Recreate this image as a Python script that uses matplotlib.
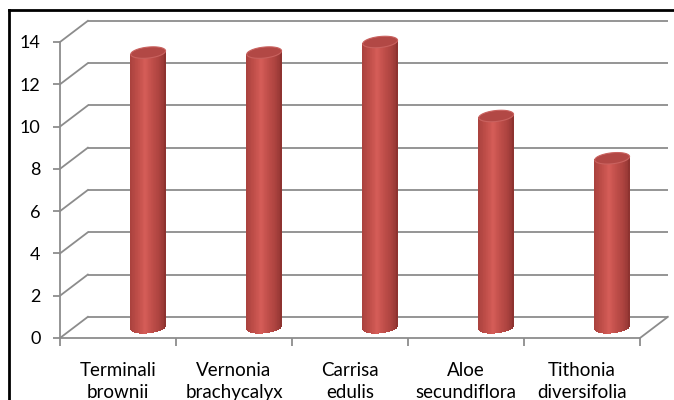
import numpy as np
import matplotlib
matplotlib.use("Agg")
import matplotlib.pyplot as plt
from matplotlib.patches import Polygon
from matplotlib.collections import PolyCollection
from matplotlib.lines import Line2D

# --- data ---------------------------------------------------------------
species = ["Terminali\nbrownii", "Vernonia\nbrachycalyx", "Carrisa\nedulis",
           "Aloe\nsecundiflora", "Tithonia\ndiversifolia"]
values = [13, 13, 13.5, 10, 8]
y_ticks = [0, 2, 4, 6, 8, 10, 12, 14]

# --- styling ------------------------------------------------------------
plt.rcParams["font.family"] = ["Lato", "DejaVu Sans"]
GRID = "#8c8c8c"
DEPTH_X = 0.24      # depth of the 3-D box, in category units
DEPTH_Y = 1.0       # depth of the 3-D box, in value units
CYL_SHIFT = 0.26    # cylinder position inside the category slot
CYL_W = 0.30        # cylinder diameter (category units)
CAP_B = 0.26        # half-height of the cylinder ellipses (value units)
TILT = 0.08         # slight perspective tilt of the ellipses

fig = plt.figure(figsize=(6.74, 4.0), dpi=100)
fig.patch.set_facecolor("white")
ax = fig.add_axes([60 / 674, 62 / 400, 580 / 674, 296 / 400])
ax.set_xlim(-0.5, len(species) - 0.5)
ax.set_ylim(0, 14)
ax.patch.set_visible(False)

# frame of the chart area (left and top edge)
fig.add_artist(Line2D([9 / 674, 9 / 674], [0, 390 / 400], color="black", lw=2,
                      transform=fig.transFigure))
fig.add_artist(Line2D([9 / 674, 1], [390 / 400, 390 / 400], color="black", lw=2,
                      transform=fig.transFigure))

x0, x1 = -0.5, len(species) - 0.5
# back wall gridlines and side-wall diagonals
for y in y_ticks:
    ax.plot([x0 + DEPTH_X, x1 + DEPTH_X], [y + DEPTH_Y, y + DEPTH_Y], color=GRID,
            lw=1.3, clip_on=False, zorder=1, solid_capstyle="butt")
    ax.plot([x0, x0 + DEPTH_X], [y, y + DEPTH_Y], color=GRID, lw=1.3,
            clip_on=False, zorder=1)
# floor right edge
ax.plot([x1, x1 + DEPTH_X], [0, DEPTH_Y], color=GRID, lw=1.3, clip_on=False, zorder=1)

# axes lines
for s in ["top", "right"]:
    ax.spines[s].set_visible(False)
for s in ["left", "bottom"]:
    ax.spines[s].set_color(GRID)
    ax.spines[s].set_linewidth(1.3)
    ax.spines[s].set_zorder(1)

ax.set_yticks(y_ticks)
ax.set_yticklabels([str(t) for t in y_ticks])
ax.tick_params(axis="y", length=5, width=1.3, color=GRID, pad=9, labelsize=13,
               labelcolor="black")
ax.set_xticks(range(len(species)))
ax.set_xticklabels(species, linespacing=1.32)
ax.set_xticks(np.arange(-0.5, len(species), 1.0), minor=True)
ax.tick_params(axis="x", which="major", length=0, pad=17.5, labelsize=13.5,
               labelcolor="black")
ax.tick_params(axis="x", which="minor", length=6, width=1.3, color=GRID)


def body_color(u):
    """Shading across the cylinder: u from -1 (left) to 1 (right)."""
    dark = np.array([0.52, 0.18, 0.17])
    mid = np.array([0.80, 0.33, 0.31])
    hi = np.array([0.84, 0.37, 0.35])
    t = np.clip(1 - np.abs(u - (-0.15)) / 1.15, 0, 1)
    c = dark + (mid - dark) * np.sqrt(t) + (hi - mid) * t ** 4
    return np.clip(c, 0, 1)


n = 48
for i, v in enumerate(values):
    xc = i + CYL_SHIFT
    base = DEPTH_Y / 2
    top = v + DEPTH_Y / 2
    edges = np.linspace(-1, 1, n + 1)
    polys, cols = [], []
    for a, b in zip(edges[:-1], edges[1:]):
        xa, xb = xc + a * CYL_W / 2, xc + b * CYL_W / 2
        ya = base - CAP_B * np.sqrt(max(0, 1 - a * a)) + TILT * a
        yb = base - CAP_B * np.sqrt(max(0, 1 - b * b)) + TILT * b
        polys.append([(xa, ya), (xb, yb), (xb, top + TILT * b), (xa, top + TILT * a)])
        cols.append(body_color((a + b) / 2))
    pc = PolyCollection(polys, facecolors=cols, edgecolors="none", linewidths=0,
                        antialiased=False, zorder=3, clip_on=False)
    ax.add_collection(pc)
    t = np.linspace(0, 2 * np.pi, 100)
    cap = np.column_stack([xc + CYL_W / 2 * np.cos(t),
                           top + CAP_B * np.sin(t) + TILT * np.cos(t)])
    ax.add_patch(Polygon(cap, closed=True, facecolor="#b24845", edgecolor="#c9625f",
                         lw=0.8, zorder=4, clip_on=False))

fig.savefig("out.png", dpi=100)
